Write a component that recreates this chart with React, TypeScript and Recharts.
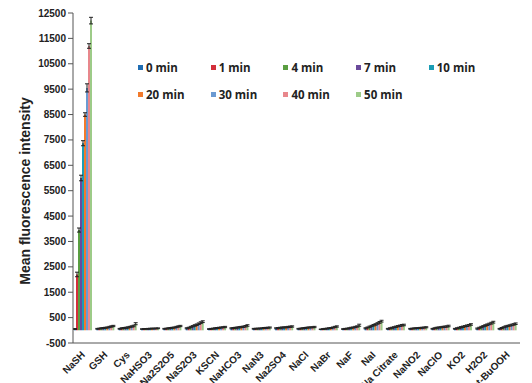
import { BarChart, Bar, XAxis, YAxis, ErrorBar, Legend } from 'recharts';

const categories = [
  'NaSH', 'GSH', 'Cys', 'NaHSO3', 'Na2S2O5', 'NaS2O3', 'KSCN', 'NaHCO3', 'NaN3', 'Na2SO4',
  'NaCl', 'NaBr', 'NaF', 'NaI', 'Na Citrate', 'NaNO2', 'NaClO', 'KO2', 'H2O2', 't-BuOOH',
];

// mean fluorescence per category, one array per time point
const min0 = [50, 60, 60, 50, 60, 80, 50, 80, 60, 80, 60, 40, 50, 80, 60, 60, 60, 60, 70, 60];
const min1 = [2200, 70, 80, 55, 70, 100, 60, 90, 65, 90, 70, 50, 60, 110, 80, 70, 80, 80, 100, 90];
const min4 = [3950, 80, 90, 60, 80, 130, 70, 100, 70, 100, 80, 60, 70, 140, 100, 80, 100, 100, 130, 120];
const min7 = [6000, 90, 100, 60, 90, 160, 80, 110, 75, 110, 90, 70, 80, 170, 120, 85, 110, 120, 160, 150];
const min10 = [7370, 100, 110, 65, 100, 190, 90, 120, 80, 115, 100, 80, 100, 200, 140, 90, 120, 140, 190, 170];
const min20 = [8500, 110, 130, 70, 110, 220, 100, 130, 90, 120, 110, 90, 110, 230, 160, 95, 130, 160, 220, 190];
const min30 = [9550, 130, 150, 70, 130, 260, 110, 140, 95, 130, 115, 110, 130, 270, 180, 100, 140, 180, 250, 210];
const min40 = [11200, 150, 170, 75, 150, 300, 120, 160, 100, 140, 120, 130, 150, 310, 200, 110, 150, 200, 280, 230];
const min50 = [12200, 170, 260, 80, 170, 340, 130, 190, 110, 150, 130, 150, 200, 360, 210, 120, 170, 230, 320, 260];

// standard deviations
const err0 = [20, 15, 15, 10, 15, 20, 15, 20, 15, 20, 15, 10, 15, 20, 15, 15, 15, 15, 20, 15];
const err1 = [90, 15, 20, 10, 15, 20, 15, 20, 15, 20, 15, 15, 15, 20, 20, 15, 20, 20, 20, 20];
const err4 = [80, 20, 20, 10, 20, 25, 15, 20, 15, 20, 20, 15, 15, 25, 20, 15, 20, 20, 25, 20];
const err7 = [110, 20, 20, 15, 20, 25, 20, 20, 15, 20, 20, 15, 20, 25, 20, 15, 20, 25, 25, 25];
const err10 = [100, 20, 25, 15, 20, 30, 20, 25, 15, 20, 20, 20, 20, 30, 25, 15, 20, 25, 30, 25];
const err20 = [70, 20, 25, 15, 20, 30, 20, 25, 20, 20, 20, 20, 20, 30, 25, 20, 25, 25, 30, 25];
const err30 = [160, 25, 25, 15, 25, 30, 20, 25, 20, 25, 20, 20, 25, 30, 25, 20, 25, 30, 30, 30];
const err40 = [90, 25, 30, 15, 25, 35, 20, 30, 20, 25, 20, 25, 25, 35, 30, 20, 25, 30, 35, 30];
const err50 = [130, 25, 40, 15, 25, 35, 25, 30, 20, 25, 25, 25, 40, 35, 30, 20, 30, 30, 35, 30];

const yTicks = [-500, 500, 1500, 2500, 3500, 4500, 5500, 6500, 7500, 8500, 9500, 10500, 11500, 12500];

const series = [
  { key: 'm0', name: '0 min', color: '#1f6db3', values: min0, errors: err0 },
  { key: 'm1', name: '1 min', color: '#d32f3b', values: min1, errors: err1 },
  { key: 'm4', name: '4 min', color: '#5a9e41', values: min4, errors: err4 },
  { key: 'm7', name: '7 min', color: '#6a4a9b', values: min7, errors: err7 },
  { key: 'm10', name: '10 min', color: '#1b9db5', values: min10, errors: err10 },
  { key: 'm20', name: '20 min', color: '#f27a2b', values: min20, errors: err20 },
  { key: 'm30', name: '30 min', color: '#6b9ad2', values: min30, errors: err30 },
  { key: 'm40', name: '40 min', color: '#e8878c', values: min40, errors: err40 },
  { key: 'm50', name: '50 min', color: '#9dcb88', values: min50, errors: err50 },
];

const data = categories.map((name, i) => {
  const row: Record<string, string | number> = { name };
  series.forEach((s) => {
    row[s.key] = s.values[i];
    row[s.key + 'Err'] = s.errors[i];
  });
  return row;
});

const font = 'Arial, "Liberation Sans", sans-serif';

function renderXTick(props: any) {
  const { x, y, payload } = props;
  const ax = x - 1;
  const ay = y + 2;
  return (
    <text
      key={payload.value}
      x={ax}
      y={ay}
      dy="0.35em"
      transform={`rotate(-45, ${ax}, ${ay})`}
      textAnchor="end"
      fontFamily={font}
      fontWeight="bold"
      fontSize={10}
      fill="#222"
    >
      {payload.value}
    </text>
  );
}

function YTitle() {
  return (
    <text
      x={25}
      y={191}
      transform="rotate(-90, 25, 191)"
      textAnchor="middle"
      dominantBaseline="central"
      fontFamily={font}
      fontWeight="bold"
      fontSize={14}
      fill="#222"
    >
      Mean fluorescence intensity
    </text>
  );
}

function LegendBox() {
  return (
    <div style={{ display: 'flex', flexWrap: 'wrap', width: 364 }}>
      {series.map((s) => (
        <div
          key={s.key}
          style={{
            width: 72.7,
            height: 27.3,
            display: 'flex',
            alignItems: 'center',
            fontFamily: '"Open Sans", Lato, sans-serif',
            fontWeight: 'bold',
            fontSize: 11.5,
            color: '#222',
          }}
        >
          <span style={{ width: 5, height: 5, background: s.color, marginRight: 3, display: 'inline-block' }} />
          {s.name}
        </div>
      ))}
    </div>
  );
}

export default function App() {
  return (
    <div style={{ position: 'fixed', top: 0, left: 0, width: 532, height: 383, background: '#fff' }}>
      <BarChart
        width={532}
        height={383}
        data={data}
        margin={{ top: 13, right: 12, left: 0, bottom: 0 }}
        barCategoryGap={1}
        barGap={0}
      >
        <XAxis
          dataKey="name"
          height={40}
          interval={0}
          tick={renderXTick}
          tickLine={false}
          axisLine={{ stroke: '#555' }}
        />
        <YAxis
          width={73}
          domain={[-500, 12500]}
          ticks={yTicks}
          interval={0}
          tickSize={5}
          tick={{ fill: '#222', fontSize: 10, fontWeight: 'bold', fontFamily: font }}
          tickLine={{ stroke: '#555' }}
          axisLine={{ stroke: '#555' }}
          label={<YTitle />}
        />
        <Legend
          layout="horizontal"
          verticalAlign="middle"
          align="center"
          content={<LegendBox />}
          wrapperStyle={{ top: 54, left: 138, width: 364 }}
        />
        {series.map((s) => (
          <Bar key={s.key} dataKey={s.key} name={s.name} fill={s.color} isAnimationActive={false}>
            <ErrorBar dataKey={s.key + 'Err'} width={2} stroke="#222" strokeWidth={1} />
          </Bar>
        ))}
      </BarChart>
    </div>
  );
}
